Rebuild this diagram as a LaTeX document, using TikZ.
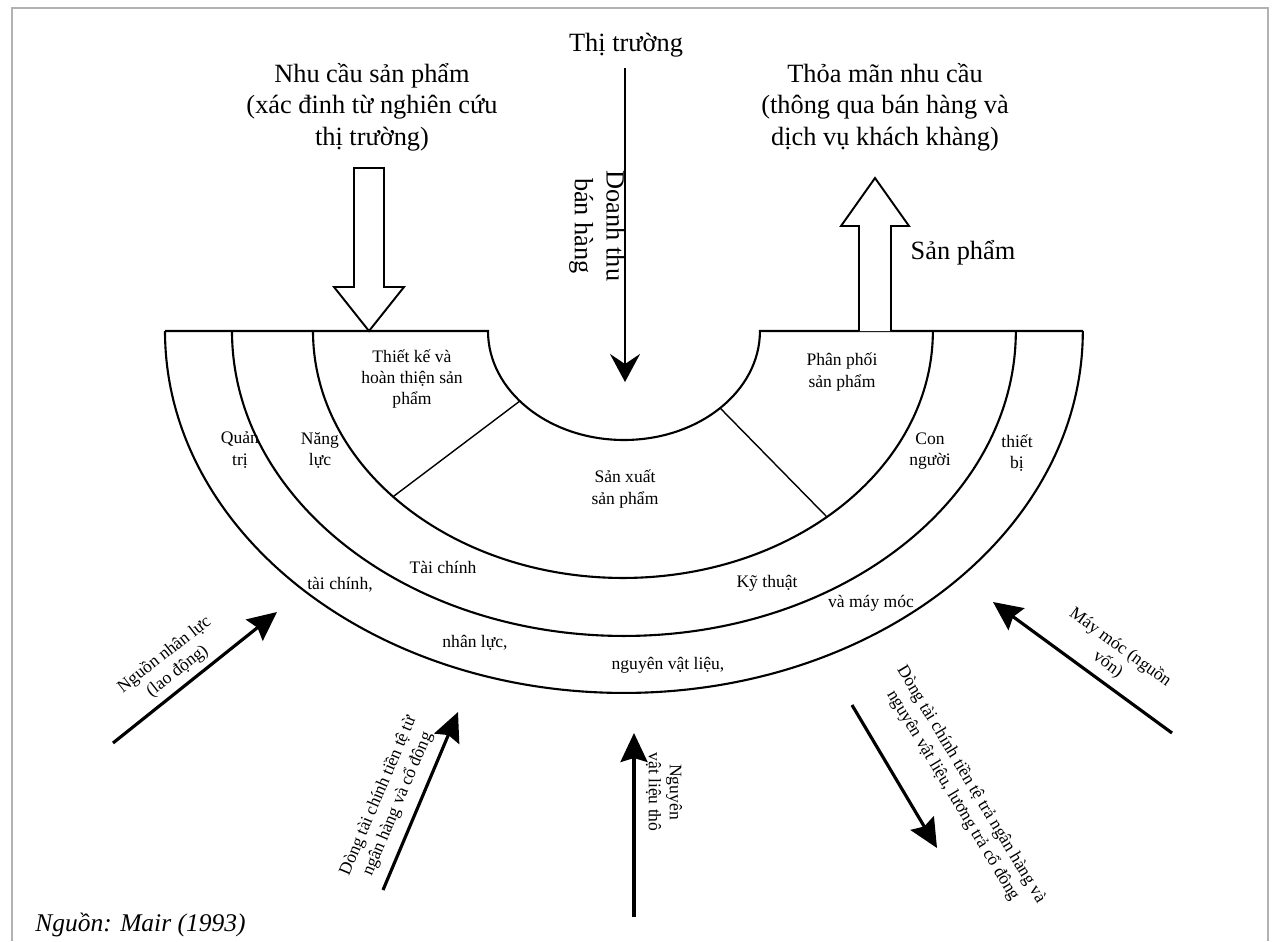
\documentclass[tikz,border=0pt]{standalone}
\usepackage{fontspec}
\setmainfont{Liberation Serif}
\usetikzlibrary{arrows.meta}

\begin{document}
\begin{tikzpicture}[x=0.02cm, y=-0.02cm,
		ring/.style={line width=1.2pt},
		bigtext/.style={font=\fontsize{15}{18}\selectfont, align=center, inner sep=0pt},
		smalltext/.style={font=\fontsize{10}{12}\selectfont, align=center, inner sep=0pt},
		flow/.style={line width=1.8pt, -{Stealth[length=0.58cm, width=0.54cm, inset=0.08cm]}},
		revflow/.style={line width=1.2pt, -{Stealth[length=0.56cm, width=0.6cm, inset=0.2cm]}},
		hollow/.style={line width=1.1pt, fill=white, line join=miter}]
	\useasboundingbox (0,0) rectangle (1275,941);
	\draw[gray!60, line width=0.6pt] (12,941) -- (12,8) -- (1268,8) -- (1268,941);

	\node[shape=coordinate] (ctr) at (624,331) {};
	\begin{scope}[ring]
		\draw (165,331) -- (488,331) arc[start angle=180, end angle=360, x radius=2.72cm, y radius=2.18cm] -- (1083,331);
		\draw (313,331) arc[start angle=180, end angle=360, x radius=6.2cm, y radius=4.94cm];
		\draw (232,331) arc[start angle=180, end angle=360, x radius=7.84cm, y radius=6.1cm];
		\draw (165,331) arc[start angle=180, end angle=360, x radius=9.18cm, y radius=7.24cm];
	\end{scope}
	\path (ctr) ++(220:2.72cm and 2.18cm) coordinate (dl1);
	\path (ctr) ++(222:6.2cm and 4.94cm) coordinate (dl2);
	\path (ctr) ++(315:2.72cm and 2.18cm) coordinate (dr1);
	\path (ctr) ++(311:6.2cm and 4.94cm) coordinate (dr2);
	\draw[line width=0.8pt] (dl1) -- (dl2);
	\draw[line width=0.8pt] (dr1) -- (dr2);

	% market side
	\node[bigtext] (market) at (626,45) {Thị trường};
	\node[bigtext] (demand) at (372,107) {Nhu cầu sản phẩm\\(xác đinh từ nghiên cứu\\thị trường)};
	\node[bigtext] (satisfy) at (885,107) {Thỏa mãn nhu cầu\\(thông qua bán hàng và\\dịch vụ khách khàng)};
	\node[bigtext] (product) at (963,253) {Sản phẩm};
	\node[bigtext, rotate=-90] (revenue) at (597,226) {Doanh thu\\bán hàng};

	\draw[hollow] (354,168) -- (384,168) -- (384,287) -- (404,287) -- (369,331) -- (334,287) -- (354,287) -- cycle;
	\draw[hollow] (859,331) -- (859,226) -- (841,226) -- (875,178) -- (909,226) -- (891,226) -- (891,331);

	\node[shape=coordinate] (revtop) at (625,68) {};
	\node[shape=coordinate] (revtip) at (625,382) {};
	\draw[revflow] (revtop) -- (revtip);

	% labels in the rings
	\node[smalltext] (design) at (412,379) {Thiết kế và\\hoàn thiện sản\\phẩm};
	\node[smalltext] (distrib) at (842,372) {Phân phối\\sản phẩm};
	\node[smalltext] (produce) at (625,489) {Sản xuất\\sản phẩm};
	\node[smalltext] (mgmt) at (240,450) {Quản\\trị};
	\node[smalltext] (capab) at (320,450) {Năng\\lực};
	\node[smalltext] (people) at (930,451) {Con\\người};
	\node[smalltext] (equip) at (1017,453) {thiết\\bị};
	\node[smalltext] (finance) at (443,567) {Tài chính};
	\node[smalltext] (tech) at (767,583) {Kỹ thuật};
	\node[smalltext] (finance2) at (340,585) {tài chính,};
	\node[smalltext] (machines) at (871,603) {và máy móc};
	\node[smalltext] (staff) at (475,643) {nhân lực,};
	\node[smalltext] (material) at (668,665) {nguyên vật liệu,};

	% inputs and outputs
	\node[shape=coordinate] (labtail) at (113,743) {};
	\node[shape=coordinate] (labtip) at (277,612) {};
	\draw[flow] (labtail) -- (labtip);
	\node[smalltext, rotate=38] (labour) at (171,663) {Nguồn nhân lực\\(lao động)};

	\node[shape=coordinate] (banktail) at (383,890) {};
	\node[shape=coordinate] (banktip) at (458,712) {};
	\draw[flow] (banktail) -- (banktip);
	\node[smalltext, rotate=67] (bank) at (388,800) {Dòng tài chính tiền tệ từ\\ngân hàng và cổ đông};

	\node[shape=coordinate] (rawtail) at (634,917) {};
	\node[shape=coordinate] (rawtip) at (634,733) {};
	\draw[flow] (rawtail) -- (rawtip);
	\node[smalltext, rotate=-90] (raw) at (664,792) {Nguyên\\vật liệu thô};

	\node[shape=coordinate] (paytail) at (852,705) {};
	\node[shape=coordinate] (paytip) at (937,848) {};
	\draw[flow] (paytail) -- (paytip);
	\node[smalltext, rotate=-59] (repay) at (962,790) {Dòng tài chính tiền tệ trả ngân hàng và\\nguyên vật liệu, lương trả cổ đông};

	\node[shape=coordinate] (mactail) at (1172,733) {};
	\node[shape=coordinate] (mactip) at (993,602) {};
	\draw[flow] (mactail) -- (mactip);
	\node[smalltext, rotate=-36] (capital) at (1114,656) {Máy móc (nguồn\\vốn)};

	\node[font=\fontsize{14.5}{16}\selectfont\itshape, anchor=west, inner sep=0pt] (source) at (35,925) {Nguồn: Mair (1993)};
\end{tikzpicture}
\end{document}
